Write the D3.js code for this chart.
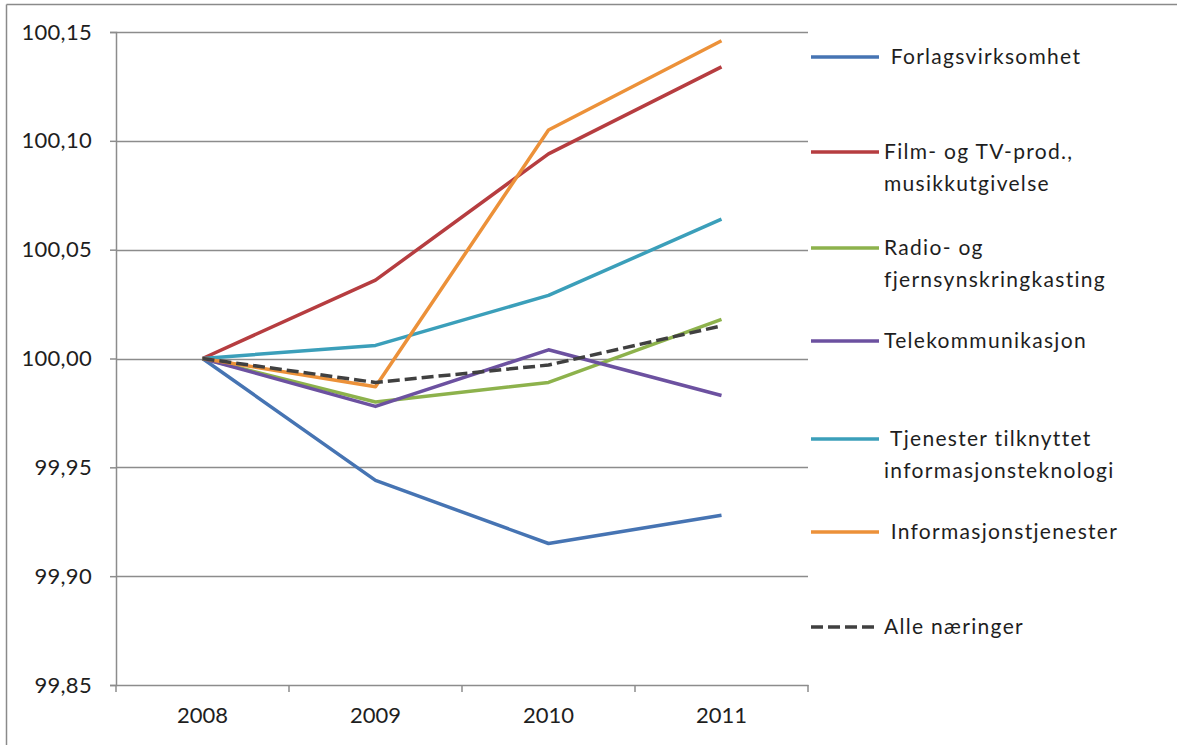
<!DOCTYPE html>
<html>
<head>
<meta charset="utf-8">
<script src="https://cdn.jsdelivr.net/npm/d3@7"></script>
<style>
  html, body { margin: 0; padding: 0; background: #ffffff; }
  svg { display: block; }
  text { font-family: Lato, "Open Sans", sans-serif; fill: #1e1e1e; }
</style>
</head>
<body>
<svg id="chart" width="1177" height="745"></svg>
<script>
// Index values, 2008 = 100
const years = ["2008", "2009", "2010", "2011"];
const yTicks = [99.85, 99.90, 99.95, 100.00, 100.05, 100.10, 100.15];

const forlag      = [100.000, 99.944, 99.915, 99.928];
const filmTv      = [100.000, 100.036, 100.094, 100.134];
const radioTv     = [100.000, 99.980, 99.989, 100.018];
const telekom     = [100.000, 99.978, 100.004, 99.983];
const itTjenester = [100.000, 100.006, 100.029, 100.064];
const infoTjen    = [100.000, 99.987, 100.105, 100.146];
const alle        = [100.000, 99.989, 99.997, 100.015];

const seriesNames = [
  [" Forlagsvirksomhet"],
  ["Film- og TV-prod.,", "musikkutgivelse"],
  ["Radio- og", "fjernsynskringkasting"],
  ["Telekommunikasjon"],
  [" Tjenester tilknyttet", "informasjonsteknologi"],
  [" Informasjonstjenester"],
  ["Alle næringer"]
];
const seriesValues = [forlag, filmTv, radioTv, telekom, itTjenester, infoTjen, alle];
const seriesColors = ["#4674b3", "#b63d40", "#8db24c", "#6c51a0", "#3b9fba", "#ec9139", "#404040"];
const seriesDash   = [null, null, null, null, null, null, "12,5"];

const svg = d3.select("#chart");

// outer frame (top and left edges)
svg.append("line").attr("x1", 6.5).attr("x2", 1177).attr("y1", 4.5).attr("y2", 4.5)
  .attr("stroke", "#8a8a8a").attr("stroke-width", 1.5);
svg.append("line").attr("x1", 6.5).attr("x2", 6.5).attr("y1", 4.5).attr("y2", 745)
  .attr("stroke", "#8a8a8a").attr("stroke-width", 1.5);

const plotLeft = 116, plotRight = 808, plotTop = 32, plotBottom = 685;

const x = d3.scaleBand().domain(years).range([plotLeft, plotRight]).paddingInner(0).paddingOuter(0);
const y = d3.scaleLinear().domain([99.85, 100.15]).range([plotBottom, plotTop]);
const fmt = v => d3.format(".2f")(v).replace(".", ",");

// horizontal gridlines
svg.append("g").selectAll("line").data(yTicks.slice(1)).join("line")
  .attr("x1", plotLeft).attr("x2", plotRight)
  .attr("y1", d => Math.round(y(d)) + 0.5).attr("y2", d => Math.round(y(d)) + 0.5)
  .attr("stroke", "#8c8c8c").attr("stroke-width", 1.5);

// y axis
const yAxis = svg.append("g").attr("transform", `translate(${plotLeft},0)`)
  .call(d3.axisLeft(y).tickValues(yTicks).tickFormat(fmt).tickSize(6).tickPadding(18));
yAxis.select(".domain").attr("stroke", "#8c8c8c").attr("stroke-width", 1.5);
yAxis.selectAll(".tick line").attr("stroke", "#8c8c8c").attr("stroke-width", 1.5);
yAxis.selectAll(".tick text").style("font-size", "22px").attr("fill", "#1e1e1e")
  .style("font-family", "Lato, sans-serif").style("letter-spacing", "0.3px");

// x axis with ticks at category boundaries
const xAxis = svg.append("g").attr("transform", `translate(0,${plotBottom})`)
  .call(d3.axisBottom(x).tickSize(0).tickPadding(22));
xAxis.select(".domain").attr("stroke", "#8c8c8c").attr("stroke-width", 1.5);
xAxis.selectAll(".tick text").style("font-size", "22px").attr("fill", "#1e1e1e")
  .style("font-family", "Lato, sans-serif");
const bounds = years.map(d => x(d)).concat([x(years[years.length - 1]) + x.bandwidth()]);
svg.append("g").selectAll("line").data(bounds).join("line")
  .attr("x1", d => d).attr("x2", d => d)
  .attr("y1", plotBottom).attr("y2", plotBottom + 7)
  .attr("stroke", "#8c8c8c").attr("stroke-width", 1.5);

// series lines
const line = d3.line()
  .x((d, i) => x(years[i]) + x.bandwidth() / 2)
  .y(d => y(d));

seriesValues.forEach((vals, i) => {
  svg.append("path")
    .datum(vals)
    .attr("d", line)
    .attr("fill", "none")
    .attr("stroke", seriesColors[i])
    .attr("stroke-width", 3.5)
    .attr("stroke-linejoin", "round")
    .attr("stroke-dasharray", seriesDash[i]);
});

// legend
const legendY = [57, 152, 248, 341, 439, 532, 627];
const legend = svg.append("g");
seriesNames.forEach((lines, i) => {
  const g = legend.append("g").attr("transform", `translate(811,${legendY[i]})`);
  g.append("line").attr("x1", 0).attr("x2", 68).attr("y1", 0).attr("y2", 0)
    .attr("stroke", seriesColors[i]).attr("stroke-width", 3.5)
    .attr("stroke-dasharray", seriesDash[i]);
  const t = g.append("text").attr("x", 73).attr("y", 7)
    .style("font-size", "21px").style("letter-spacing", "1.3px").style("white-space", "pre");
  lines.forEach((s, k) => {
    t.append("tspan").attr("x", 73).attr("dy", k === 0 ? 0 : 32).text(s);
  });
});
</script>
</body>
</html>
